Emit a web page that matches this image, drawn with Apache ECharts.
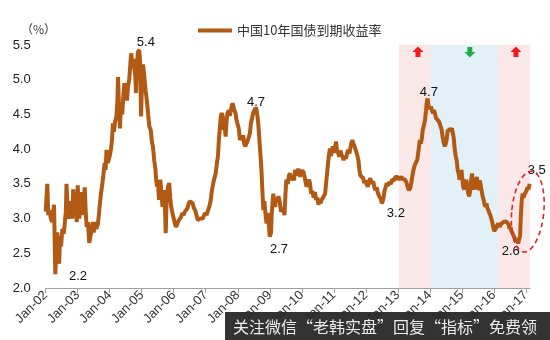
<!DOCTYPE html>
<html><head><meta charset="utf-8">
<script src="https://cdn.jsdelivr.net/npm/echarts@6/dist/echarts.min.js"></script>
<style>html,body{margin:0;padding:0;background:#fff}#c{width:550px;height:340px}</style>
</head><body><div id="c"></div>
<script>
// decimal-year positions of observations
const times = [
 2002.00,2002.03,2002.05,2002.08,2002.12,2002.16,2002.20,2002.23,2002.26,2002.28,2002.30,2002.33,2002.36,2002.40,2002.42,2002.45,2002.48,2002.52,2002.56,2002.60,2002.63,2002.65,2002.68,2002.72,2002.75,2002.79,2002.83,2002.86,2002.90,2002.94,2002.97,
 2003.00,2003.03,2003.05,2003.09,2003.12,2003.15,2003.18,2003.22,2003.25,2003.28,2003.32,2003.36,2003.40,2003.43,2003.47,2003.50,2003.54,2003.58,2003.63,2003.66,2003.69,2003.73,2003.77,2003.80,2003.84,2003.87,2003.90,2003.94,
 2004.00,2004.04,2004.07,2004.10,2004.13,2004.17,2004.21,2004.24,2004.26,2004.29,2004.32,2004.35,2004.39,2004.43,2004.46,2004.50,2004.54,2004.57,2004.61,2004.64,2004.67,2004.70,2004.74,2004.77,2004.80,2004.82,2004.85,2004.88,2004.92,2004.95,2004.98,
 2005.01,2005.04,2005.08,2005.12,2005.16,2005.20,2005.24,2005.28,2005.32,2005.35,2005.39,2005.43,2005.45,2005.48,2005.51,2005.54,2005.58,2005.61,2005.65,2005.68,2005.70,2005.73,2005.75,2005.78,2005.82,2005.86,2005.89,2005.92,2005.96,
 2006.00,2006.04,2006.07,2006.11,2006.15,2006.19,2006.23,2006.27,2006.31,2006.35,2006.39,2006.43,2006.47,2006.51,2006.55,2006.59,2006.63,2006.67,2006.71,2006.75,2006.79,2006.83,2006.87,2006.91,2006.95,2006.99,
 2007.03,2007.07,2007.11,2007.15,2007.19,2007.23,2007.27,2007.31,2007.35,2007.38,2007.41,2007.44,2007.47,2007.50,2007.53,2007.56,2007.59,2007.62,2007.65,2007.68,2007.72,2007.75,2007.78,2007.81,2007.84,2007.87,2007.90,2007.93,2007.96,
 2008.03,2008.07,2008.10,2008.14,2008.17,2008.20,2008.23,2008.26,2008.29,2008.33,2008.38,2008.41,2008.45,2008.48,2008.52,2008.56,2008.59,2008.63,2008.66,2008.69,2008.72,2008.74,2008.77,2008.80,2008.83,2008.85,2008.88,2008.90,2008.93,2008.95,2008.98,2009.00,
 2009.04,2009.06,2009.09,2009.11,2009.14,2009.17,2009.20,2009.23,2009.27,2009.31,2009.35,2009.39,2009.42,2009.46,2009.49,2009.52,2009.56,2009.60,2009.63,2009.67,2009.70,2009.73,2009.76,2009.79,2009.83,2009.86,2009.89,2009.92,2009.95,2009.98,2010.01,
 2010.05,2010.09,2010.12,2010.15,2010.19,2010.23,2010.26,2010.29,2010.33,2010.37,2010.41,2010.45,2010.49,2010.52,2010.56,2010.59,2010.62,2010.66,2010.70,2010.73,2010.76,2010.79,2010.83,2010.86,2010.88,2010.91,2010.94,2010.97,2011.00,2011.03,
 2011.07,2011.10,2011.14,2011.17,2011.21,2011.24,2011.28,2011.31,2011.35,2011.38,2011.42,2011.45,2011.49,2011.52,2011.55,2011.58,2011.61,2011.65,2011.68,2011.71,2011.74,2011.77,2011.80,2011.83,2011.86,2011.89,2011.92,2011.95,2011.98,2012.02,
 2012.06,2012.10,2012.13,2012.16,2012.20,2012.23,2012.27,2012.30,2012.34,2012.37,2012.40,2012.44,2012.47,2012.50,2012.53,2012.56,2012.59,2012.62,2012.65,2012.68,2012.72,2012.75,2012.79,2012.82,2012.85,2012.89,2012.92,2012.96,2012.99,2013.03,
 2013.07,2013.11,2013.15,2013.19,2013.23,2013.27,2013.31,2013.35,2013.39,2013.42,2013.45,2013.49,2013.53,2013.57,2013.61,2013.65,2013.69,2013.72,2013.75,2013.78,2013.82,2013.85,2013.88,2013.90,2013.93,2013.96,2013.99,2014.01,2014.04,
 2014.07,2014.10,2014.13,2014.16,2014.19,2014.22,2014.25,2014.28,2014.31,2014.34,2014.37,2014.40,2014.43,2014.47,2014.50,2014.53,2014.56,2014.59,2014.62,2014.65,2014.69,2014.72,2014.75,2014.78,2014.81,2014.84,2014.87,2014.90,2014.93,2014.96,2014.99,2015.02,2015.04,
 2015.08,2015.11,2015.14,2015.17,2015.20,2015.23,2015.26,2015.29,2015.32,2015.35,2015.38,2015.41,2015.44,2015.47,2015.50,2015.53,2015.56,2015.59,2015.62,2015.65,2015.68,2015.71,2015.74,2015.77,2015.80,2015.83,2015.86,2015.89,2015.92,2015.95,2015.98,2016.01,2016.04,2016.07,
 2016.10,2016.14,2016.18,2016.22,2016.26,2016.30,2016.34,2016.38,2016.42,2016.46,2016.49,2016.52,2016.55,2016.58,2016.61,2016.64,2016.67,2016.70,2016.73,2016.76,2016.79,2016.82,2016.84,2016.87,2016.90,2016.93,2016.96,2016.99,2017.02,2017.05,2017.08,2017.12
];
// China 10Y government bond yield (%)
const yields = [
 3.10,3.35,3.50,3.05,3.12,3.00,2.95,3.05,3.20,2.70,2.20,2.55,2.80,2.45,2.35,2.75,2.60,2.85,2.78,2.95,3.10,3.50,3.20,3.00,3.05,3.25,3.00,3.42,3.15,3.22,2.95,
 3.48,3.10,3.00,3.30,3.38,3.05,3.25,3.45,3.10,2.88,2.95,2.65,2.75,2.83,2.95,2.80,2.95,2.85,2.92,3.05,3.20,3.37,3.50,3.62,3.80,3.70,3.99,3.80,
 3.90,4.00,4.13,4.37,4.25,4.40,4.47,4.70,5.04,4.60,4.30,4.66,4.50,4.80,4.95,4.85,4.70,4.90,5.00,5.20,5.38,5.25,5.30,5.15,5.05,4.81,5.20,5.40,5.43,5.25,4.47,
 5.00,5.22,5.05,4.85,4.70,4.50,4.32,4.28,4.10,4.04,3.84,3.70,3.56,3.46,3.50,3.27,3.56,3.40,3.17,3.30,3.41,3.10,2.79,3.30,3.46,3.51,3.30,3.17,3.08,
 3.00,2.92,2.88,2.92,2.97,2.95,3.02,3.08,3.05,3.10,3.08,3.15,3.22,3.25,3.24,3.22,3.15,3.12,3.05,2.98,2.97,3.00,3.02,3.00,3.05,3.08,
 3.05,3.12,3.17,3.25,3.40,3.50,3.58,3.65,3.80,3.89,4.13,4.30,4.47,4.52,4.48,4.28,4.35,4.18,4.40,4.52,4.56,4.48,4.55,4.62,4.66,4.60,4.55,4.52,4.42,
 4.30,4.13,4.18,4.15,4.20,4.08,4.04,4.06,4.10,4.15,4.23,4.37,4.45,4.52,4.50,4.60,4.56,4.42,4.25,4.04,3.85,3.70,3.40,3.12,3.25,3.15,3.00,2.93,3.05,3.08,2.85,2.74,
 2.80,3.05,3.25,3.36,3.20,3.17,3.30,3.27,3.32,3.25,3.10,3.08,3.15,3.05,3.35,3.56,3.50,3.62,3.65,3.55,3.62,3.60,3.55,3.70,3.65,3.62,3.72,3.66,3.60,3.68,3.70,
 3.68,3.60,3.52,3.46,3.50,3.56,3.50,3.36,3.40,3.30,3.38,3.27,3.30,3.20,3.26,3.22,3.27,3.30,3.28,3.36,3.51,3.65,3.84,3.95,4.01,3.90,3.89,4.04,3.95,4.00,
 4.11,3.98,3.94,3.89,3.98,3.92,3.89,3.84,3.90,3.86,3.95,3.99,3.94,4.02,4.09,4.13,4.08,4.04,4.02,3.95,3.90,3.84,3.70,3.62,3.60,3.64,3.58,3.51,3.55,3.56,
 3.46,3.52,3.58,3.55,3.50,3.54,3.45,3.41,3.45,3.38,3.34,3.32,3.28,3.22,3.25,3.32,3.41,3.45,3.51,3.47,3.52,3.54,3.50,3.56,3.58,3.55,3.60,3.58,3.60,3.56,
 3.58,3.60,3.57,3.55,3.56,3.52,3.45,3.41,3.44,3.51,3.60,3.70,3.77,3.75,3.85,3.99,4.13,4.08,4.15,4.28,4.35,4.42,4.55,4.66,4.73,4.62,4.58,4.56,4.61,
 4.55,4.52,4.56,4.52,4.45,4.47,4.44,4.40,4.37,4.32,4.28,4.18,4.10,4.04,4.08,4.15,4.28,4.25,4.30,4.27,4.30,4.23,4.15,3.99,3.90,3.84,3.70,3.65,3.56,3.62,3.70,3.55,3.46,
 3.42,3.50,3.56,3.45,3.36,3.32,3.40,3.55,3.65,3.50,3.42,3.40,3.52,3.60,3.48,3.41,3.55,3.48,3.40,3.32,3.27,3.20,3.17,3.22,3.15,3.12,3.08,3.05,3.06,2.95,2.88,2.82,2.81,2.86,
 2.90,2.93,2.88,2.92,2.90,2.95,2.93,2.96,2.97,2.92,2.85,2.88,2.82,2.79,2.76,2.74,2.70,2.66,2.72,2.64,2.62,2.75,3.00,3.25,3.36,3.30,3.35,3.33,3.40,3.45,3.42,3.50
];
const yearTicks = [2002,2003,2004,2005,2006,2007,2008,2009,2010,2011,2012,2013,2014,2015,2016,2017];
const seriesName = '中国10年国债到期收益率';
// phases: up (pink), down (blue), up (pink)
const phaseStarts = [2013.03, 2014.03, 2016.13];
const phaseEnds   = [2014.03, 2016.13, 2017.13];
const phaseDir    = ['up', 'down', 'up'];
const noteTexts = ['5.4','4.7','2.2','2.7','3.2','4.7','2.6','3.5'];
const noteCoords = [[2005.13,5.53],[2008.57,4.67],[2003.01,2.16],[2009.29,2.55],[2012.94,3.08],[2013.97,4.81],[2016.53,2.52],[2017.34,3.70]];

const lineData = times.map((t,i)=>[t, yields[i]]);
const chart = echarts.init(document.getElementById('c'), null, {renderer:'canvas'});
const numFont = '"Liberation Sans", Arial, sans-serif';
const cjkFont = '"Noto Sans CJK SC", sans-serif';
const phaseColors = {up:'rgba(250,232,232,1)', down:'rgba(226,240,247,1)'};
const lineColor = '#b25a14';

chart.setOption({
  animation:false,
  grid:{left:45.7, right:20, top:45, bottom:52, containLabel:false},
  legend:{left:193, top:19, itemWidth:34, itemHeight:4, itemGap:4, icon:'rect',
    textStyle:{fontSize:13, color:'#333', fontFamily:cjkFont}, data:[seriesName]},
  xAxis:{type:'value', min:2002, max:2017.13, interval:1,
    axisLine:{lineStyle:{color:'#a0a0a0', width:1}},
    axisTick:{show:true, length:5, lineStyle:{color:'#a0a0a0'}, customValues:yearTicks},
    axisLabel:{rotate:45, fontSize:13, color:'#333', fontFamily:numFont, margin:5,
      customValues:yearTicks,
      formatter:v=>'Jan-'+String(Math.round(v)%100).padStart(2,'0')},
    splitLine:{show:false}},
  yAxis:{type:'value', min:2, max:5.5, interval:0.5,
    axisLine:{show:false}, axisTick:{show:false}, splitLine:{show:false},
    axisLabel:{fontSize:13, color:'#222', fontFamily:numFont, margin:15,
      formatter:v=>v.toFixed(1)}},
  series:[{
    name:seriesName, type:'line', data:lineData, showSymbol:false, symbol:'none',
    lineStyle:{color:lineColor, width:4}, itemStyle:{color:lineColor},
    z:3,
    markArea:{silent:true, data: phaseStarts.map((s,i)=>[
      {xAxis:s, itemStyle:{color:phaseColors[phaseDir[i]]}}, {xAxis:phaseEnds[i]}])}
  }]
});

function px(c){ return chart.convertToPixel({gridIndex:0}, c); }
const g = [];
noteTexts.forEach((txt,i)=>{
  const p = px(noteCoords[i]);
  g.push({type:'text', x:p[0], y:p[1], z:20,
    style:{text:txt, fill:'#111', font:'13px '+numFont, textAlign:'center', textVerticalAlign:'middle'}});
});
// arrows above each phase
const arrowY = 5.40;
const arrowTs = [2013.63, 2015.25, 2016.69];
arrowTs.forEach((t,i)=>{
  const p = px([t, arrowY]);
  const up = phaseDir[i]==='up';
  const s = up ? 1 : -1;
  const pts = [[0,-5.5*s],[5.5,0],[2.5,0],[2.5,5*s],[-2.5,5*s],[-2.5,0],[-5.5,0]];
  g.push({type:'polygon', x:p[0], y:p[1], z:20,
    shape:{points:pts}, style:{fill: up ? '#f21a1a' : '#20ad48'}});
});
// dashed ellipse around latest rebound
const ec = px([2017.06, 3.10]);
g.push({type:'ellipse', x:ec[0], y:ec[1], rotation:-0.1, z:20,
  shape:{cx:0, cy:0, rx:16, ry:40.5},
  style:{fill:'none', stroke:'#e3232a', lineWidth:1.6, lineDash:[5,3.5]}});
// unit label
g.push({type:'text', left:21, top:23, z:20,
  style:{text:'（%）', fill:'#333', font:'12px '+cjkFont}});
// watermark banner
g.push({type:'rect', shape:{x:225, y:312, width:325, height:28}, z:50, style:{fill:'rgba(40,40,40,0.95)'}});
g.push({type:'text', x:233, y:326.5, z:51,
  style:{text:'关注微信“老韩实盘”回复“指标”免费领', fill:'#ececec', font:'16px '+cjkFont, textVerticalAlign:'middle'}});
chart.setOption({graphic:g});
</script></body></html>
